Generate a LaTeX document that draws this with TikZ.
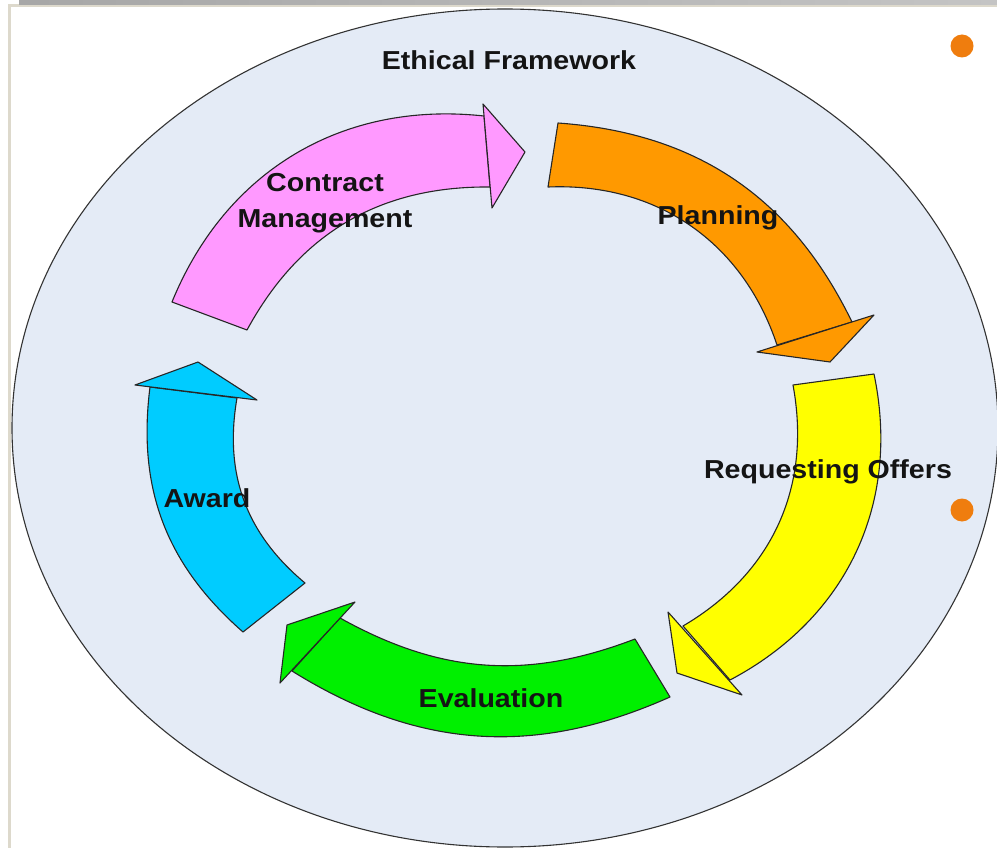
\documentclass[tikz,border=0pt]{standalone}
\usepackage{fontspec}
\setsansfont{Liberation Sans}
\usepackage{tikz}
\definecolor{ringfill}{HTML}{E4EBF6}
\definecolor{framebeige}{HTML}{DDD9CC}
\definecolor{topgrey}{HTML}{C4C4C4}
\definecolor{bulletorange}{HTML}{EF7D0E}
\definecolor{cmpink}{HTML}{FF99FF}
\definecolor{planorange}{HTML}{FF9900}
\definecolor{offeryellow}{HTML}{FFFF00}
\definecolor{evalgreen}{HTML}{00F000}
\definecolor{awardblue}{HTML}{00CCFF}

\begin{document}
\begin{tikzpicture}[x=1pt, y=-1pt,
    stage/.style={draw=black!85, line width=1.1pt, line join=round},
    lbl/.style={font=\sffamily\bfseries\fontsize{26}{36}\selectfont, text=black!92,
        inner sep=0pt, xscale=1.1, anchor=base}]
\useasboundingbox (0,0) rectangle (997,848);
\fill[white] (0,0) rectangle (997,848);
\fill[framebeige] (8,4) rectangle (997,848);
\fill[white] (11,7) rectangle (997,848);
\shade[left color=topgrey!85!black, right color=topgrey] (19,0) rectangle (997,4.5);
\filldraw[fill=ringfill, draw=black!80, line width=1.1pt] (505,428) ellipse [x radius=493, y radius=419];
\foreach \y in {46, 510}
    \fill[bulletorange] (962,\y) circle[radius=11.5];

\filldraw[stage, fill=cmpink] (172,302) to[bend left=37] (484,116) -- (490,187) to[bend right=31] (247,330) -- cycle;
\filldraw[stage, fill=cmpink] (483,104) -- (525,152) -- (492,208) -- cycle;

\filldraw[stage, fill=planorange] (558,123) to[bend left=30] (852,322) -- (777,345) to[bend right=37] (548,187) -- cycle;
\filldraw[stage, fill=planorange] (757,352) -- (874,315) -- (830,362) -- cycle;

\filldraw[stage, fill=offeryellow] (874,374) to[bend left=37] (730,680) -- (683,626) to[bend right=35] (793,385) -- cycle;
\filldraw[stage, fill=offeryellow] (668,612) -- (677,673) -- (742,695) -- cycle;

\filldraw[stage, fill=evalgreen] (670,697) to[bend left=28] (292,671) -- (340,618) to[bend right=25] (635,639) -- cycle;
\filldraw[stage, fill=evalgreen] (355,602) -- (287,625) -- (280,683) -- cycle;

\filldraw[stage, fill=awardblue] (150,387) to[bend right=28] (243,632) -- (305,583) to[bend left=30] (237,398) -- cycle;
\filldraw[stage, fill=awardblue] (135,385) -- (198,362) -- (257,400) -- cycle;

\node[lbl] (ethics) at (509,70) {Ethical Framework};
\node[lbl, anchor=center, align=center] (contract) at (325,203) {Contract\\Management};
\node[lbl] (planning) at (718,225) {Planning};
\node[lbl] (offers) at (828,478) {Requesting Offers};
\node[lbl] (award) at (207,507) {Award};
\node[lbl] (evaluation) at (491,707) {Evaluation};
\end{tikzpicture}
\end{document}
